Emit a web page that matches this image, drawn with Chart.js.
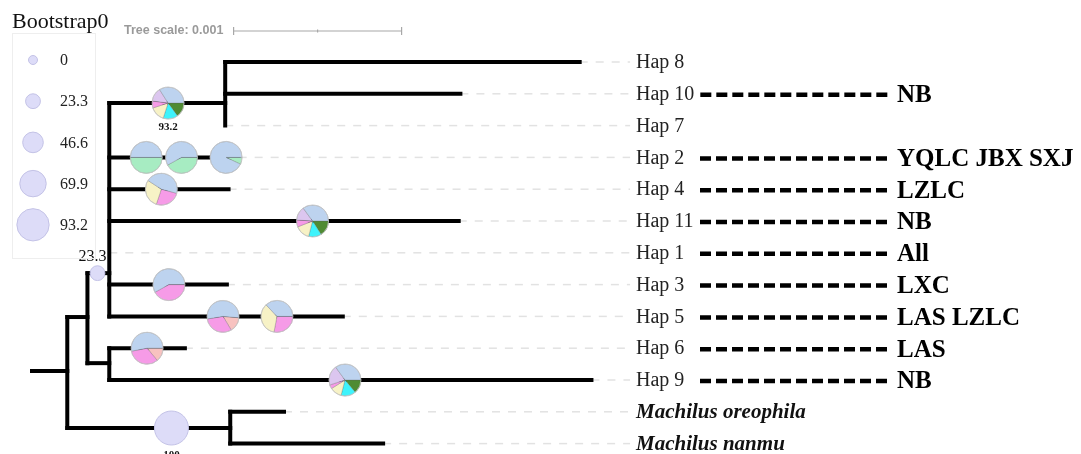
<!DOCTYPE html>
<html>
<head>
<meta charset="utf-8">
<script src="https://cdn.jsdelivr.net/npm/chart.js@4/dist/chart.umd.min.js"></script>
<style>
  html, body { margin: 0; padding: 0; background: #fff; }
  #wrap { width: 1081px; height: 454px; }
</style>
</head>
<body>
<div id="wrap"><canvas id="tree" width="1081" height="454"></canvas></div>
<script>
// --- tree data (branch depths in units of 0.001 substitutions/site) ---
const taxa = ['Hap 8', 'Hap 10', 'Hap 7', 'Hap 2', 'Hap 4', 'Hap 11', 'Hap 1',
  'Hap 3', 'Hap 5', 'Hap 6', 'Hap 9', 'Machilus oreophila', 'Machilus nanmu'];
const tipDepth = [3.26, 2.55, 1.15, 1.23, 1.17, 2.54, 0.46, 1.16, 1.85, 0.91, 3.33, 1.50, 2.09];
const tipParent = ['C', 'C', 'C', 'A', 'A', 'A', 'A', 'A', 'A', 'B', 'B', 'D', 'D'];
const regions = ['', 'NB', '', 'YQLC JBX SXJ', 'LZLC', 'NB', 'All', 'LXC', 'LAS LZLC', 'LAS', 'NB', '', ''];

const nodeIds = ['root', 'in', 'A', 'B', 'C', 'D'];
const nodeDepth = [0.21, 0.33, 0.46, 0.46, 1.15, 1.18];
const nodeRow = [9.72, 8.02, 6.64, 9.47, 1.29, 11.51];
const nodeParent = [null, 'root', 'in', 'in', 'A', 'root'];

// bootstrap support shown as circles
const bootDepth = [0.39, 0.83];
const bootRow = [6.64, 11.51];
const bootValue = [23.3, 100];
const bootLabel = ['23.3', '100'];
const legendTicks = [0, 23.3, 46.6, 69.9, 93.2];

// haplotype pies: row, depth along branch, start angle, slices
const pieRow = [1.29, 3, 3, 3, 4, 5, 7, 8, 8, 9, 10];
const pieDepth = [0.81, 0.68, 0.89, 1.155, 0.77, 1.67, 0.815, 1.137, 1.458, 0.685, 1.863];
const pieStart = [0, 0, 0, 0, 15, 0, 0, 5, 0, 0, 0];
const pieKeys = [
  ['moss', 'cyan', 'cream', 'pink', 'lilac', 'blue'],
  ['green', 'blue'],
  ['green', 'blue'],
  ['green', 'blue'],
  ['pink', 'cream', 'blue'],
  ['moss', 'cyan', 'cream', 'pink', 'lilac', 'blue'],
  ['pink', 'blue'],
  ['salmon', 'pink', 'blue'],
  ['pink', 'cream', 'blue'],
  ['salmon', 'pink', 'blue'],
  ['moss', 'cyan', 'cream', 'pink', 'lilac', 'blue']
];
const pieShares = [
  [15, 15, 15, 7, 14, 34],
  [50, 50],
  [42, 58],
  [7, 93],
  [26, 29, 45],
  [16, 13, 15, 7, 14, 35],
  [42, 58],
  [15, 31, 54],
  [28, 35, 37],
  [14, 33, 53],
  [14, 15, 12, 4, 20, 35]
];
const pieNote = ['93.2', '', '', '', '', '', '', '', '', '', ''];

const sliceColours = {
  blue: '#bdd3ef', green: '#a7ecc2', pink: '#f69be7', cream: '#f7f2c6',
  salmon: '#f8c2c0', lilac: '#dcc6ef', cyan: '#3ef3fb', moss: '#4f8b33'
};

// --- build line datasets from the tree ---
const allIds = nodeIds.concat(taxa);
const allDepth = nodeDepth.concat(tipDepth);
const allRow = nodeRow.concat(taxa.map((t, i) => i));
const allParent = nodeParent.concat(tipParent);
const idx = id => allIds.indexOf(id);

const LEADER_END = 3.56;
const datasets = [];
const branchStyle = { showLine: true, pointRadius: 0, borderColor: '#000', borderWidth: 4,
  borderCapStyle: 'square', fill: false, order: 1 };

// root stub
datasets.push(Object.assign({ data: [{ x: 0, y: nodeRow[0] }, { x: nodeDepth[0], y: nodeRow[0] }] }, branchStyle));

allIds.forEach((id, i) => {
  const p = allParent[i];
  if (p) {
    const pd = allDepth[idx(p)];
    if (allDepth[i] > pd) {
      datasets.push(Object.assign({ data: [{ x: pd, y: allRow[i] }, { x: allDepth[i], y: allRow[i] }] }, branchStyle));
    }
  }
});
nodeIds.forEach((id, i) => {
  const kids = allRow.filter((r, j) => allParent[j] === id);
  datasets.push(Object.assign({ data: [{ x: nodeDepth[i], y: Math.min(...kids) }, { x: nodeDepth[i], y: Math.max(...kids) }] }, branchStyle));
});
taxa.forEach((t, i) => {
  datasets.push({ data: [{ x: tipDepth[i], y: i }, { x: LEADER_END, y: i }], showLine: true, pointRadius: 0,
    borderColor: '#e2e2e2', borderWidth: 1.5, borderDash: [8, 8], order: 2 });
});

const bootRadius = v => 4.5 + v * 0.125;
const bubbleFill = '#dddcf8';
const bubbleLine = '#c3c2e6';

const treeDecor = {
  id: 'treeDecor',
  afterDatasetsDraw(chart) {
    const ctx = chart.ctx;
    const xs = chart.scales.x, ys = chart.scales.y;
    ctx.save();

    // bootstrap bubbles
    bootValue.forEach((v, i) => {
      const cx = xs.getPixelForValue(bootDepth[i]), cy = ys.getPixelForValue(bootRow[i]);
      const r = bootRadius(v);
      ctx.beginPath(); ctx.arc(cx, cy, r, 0, Math.PI * 2);
      ctx.fillStyle = bubbleFill; ctx.fill();
      ctx.lineWidth = 1; ctx.strokeStyle = bubbleLine; ctx.stroke();
      ctx.fillStyle = '#111'; ctx.textAlign = 'center';
      if (i === 0) {
        ctx.font = '16px "Liberation Serif", serif'; ctx.textBaseline = 'bottom';
        ctx.fillText(bootLabel[i], cx - 5, cy - r - 1);
      } else {
        ctx.font = 'bold 11px "Liberation Serif", serif'; ctx.textBaseline = 'top';
        ctx.fillText(bootLabel[i], cx, cy + r + 5);
      }
    });

    // haplotype pies
    const R = 16;
    pieShares.forEach((shares, i) => {
      const cx = xs.getPixelForValue(pieDepth[i]), cy = ys.getPixelForValue(pieRow[i]);
      const total = shares.reduce((a, b) => a + b, 0);
      let a = pieStart[i] * Math.PI / 180;
      shares.forEach((s, k) => {
        const b = a + s / total * Math.PI * 2;
        ctx.beginPath(); ctx.moveTo(cx, cy); ctx.arc(cx, cy, R, a, b); ctx.closePath();
        ctx.fillStyle = sliceColours[pieKeys[i][k]]; ctx.fill();
        ctx.lineWidth = 0.6; ctx.strokeStyle = 'rgba(90,90,90,0.45)'; ctx.stroke();
        a = b;
      });
      ctx.beginPath(); ctx.arc(cx, cy, R, 0, Math.PI * 2);
      ctx.lineWidth = 0.8; ctx.strokeStyle = '#c8c8c8'; ctx.stroke();
      if (pieNote[i]) {
        ctx.fillStyle = '#111'; ctx.font = 'bold 11px "Liberation Serif", serif';
        ctx.textAlign = 'center'; ctx.textBaseline = 'top';
        ctx.fillText(pieNote[i], cx, cy + R + 3);
      }
    });

    // taxon labels, dashed leaders and region names
    const labelX = 636;
    taxa.forEach((t, i) => {
      const y = ys.getPixelForValue(i);
      ctx.textAlign = 'left'; ctx.textBaseline = 'middle';
      if (t.startsWith('Machilus')) {
        ctx.font = 'italic bold 21px "Liberation Serif", serif'; ctx.fillStyle = '#111';
      } else {
        ctx.font = '20px "Liberation Serif", serif'; ctx.fillStyle = '#222';
      }
      ctx.fillText(t, labelX, y + 1);
      if (regions[i]) {
        const w = ctx.measureText(t).width;
        const x0 = Math.max(700, labelX + w + 6);
        ctx.beginPath(); ctx.setLineDash([11, 5]);
        ctx.moveTo(x0, y + 1); ctx.lineTo(888, y + 1);
        ctx.lineWidth = 4.5; ctx.strokeStyle = '#000'; ctx.stroke();
        ctx.setLineDash([]);
        ctx.font = 'bold 25px "Liberation Serif", serif'; ctx.fillStyle = '#000';
        ctx.fillText(regions[i], 897, y + 2);
      }
    });

    // tree scale
    ctx.font = 'bold 12.5px "Liberation Sans", sans-serif'; ctx.fillStyle = '#9a9a9a';
    ctx.textAlign = 'left'; ctx.textBaseline = 'middle';
    ctx.fillText('Tree scale: 0.001', 124, 31);
    const s0 = xs.getPixelForValue(1.2), s1 = xs.getPixelForValue(2.2), sm = (s0 + s1) / 2;
    ctx.strokeStyle = '#a8a8a8'; ctx.lineWidth = 1.2;
    ctx.beginPath();
    ctx.moveTo(s0, 31); ctx.lineTo(s1, 31);
    ctx.moveTo(s0, 27); ctx.lineTo(s0, 35);
    ctx.moveTo(s1, 27); ctx.lineTo(s1, 35);
    ctx.moveTo(sm, 29.5); ctx.lineTo(sm, 32.5);
    ctx.stroke();

    // bootstrap legend
    ctx.fillStyle = '#111'; ctx.font = '22px "Liberation Serif", serif';
    ctx.textBaseline = 'alphabetic';
    ctx.fillText('Bootstrap0', 12, 28);
    ctx.strokeStyle = '#eeeeee'; ctx.lineWidth = 1;
    ctx.strokeRect(12.5, 33.5, 83, 225);
    legendTicks.forEach((v, k) => {
      const cy = 60 + k * 41.2;
      ctx.beginPath(); ctx.arc(33, cy, bootRadius(v), 0, Math.PI * 2);
      ctx.fillStyle = bubbleFill; ctx.fill();
      ctx.strokeStyle = bubbleLine; ctx.lineWidth = 1; ctx.stroke();
      ctx.fillStyle = '#222'; ctx.font = '16px "Liberation Serif", serif';
      ctx.textBaseline = 'middle';
      ctx.fillText(String(v), 60, cy + 1);
    });
    ctx.restore();
  }
};

new Chart(document.getElementById('tree'), {
  type: 'scatter',
  data: { datasets: datasets },
  options: {
    responsive: false,
    animation: false,
    events: [],
    layout: { padding: 0 },
    plugins: { legend: { display: false }, tooltip: { enabled: false } },
    scales: {
      x: { type: 'linear', display: false, min: -32 / 168, max: (1081 - 32) / 168 },
      y: { type: 'linear', display: false, reverse: true, min: -62 / 31.8, max: (454 - 62) / 31.8 }
    }
  },
  plugins: [treeDecor]
});
</script>
</body>
</html>
